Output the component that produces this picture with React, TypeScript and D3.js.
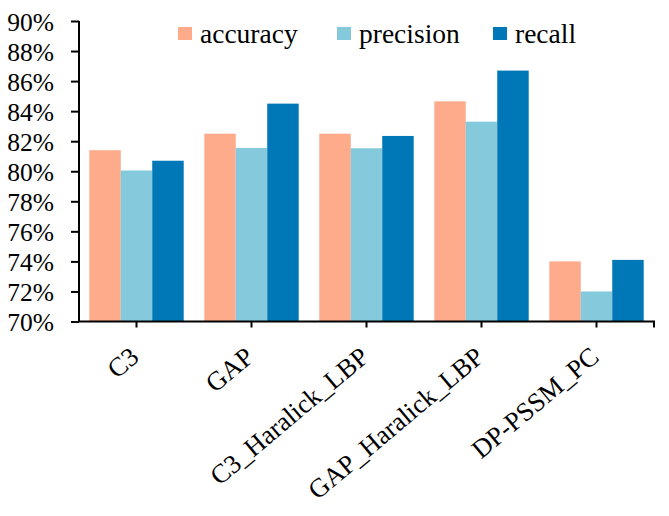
import React, { useEffect, useRef } from "react";
import * as d3 from "d3";

const categories = ["C3", "GAP", "C3_Haralick_LBP", "GAP_Haralick_LBP", "DP-PSSM_PC"];
const seriesNames = ["accuracy", "precision", "recall"];
const accuracy = [81.4, 82.5, 82.5, 84.65, 74.0];
const precision = [80.05, 81.55, 81.53, 83.3, 72.0];
const recall = [80.7, 84.5, 82.35, 86.7, 74.1];
const yTicks = [70, 72, 74, 76, 78, 80, 82, 84, 86, 88, 90];
const colors = ["#FDAB8B", "#84C9DC", "#0078B7"];

const W = 669;
const H = 516;
const FONT = "'Liberation Serif', 'Times New Roman', serif";

export default function App() {
  const ref = useRef<SVGSVGElement>(null);
  useEffect(() => {
    const svg = d3.select(ref.current);
    svg.selectAll("*").remove();
    const left = 79, right = 654, top = 21, bottom = 321.5;
    const x = d3.scaleBand<string>().domain(categories).range([left, right]).paddingInner(0).paddingOuter(0);
    const xs = d3.scaleBand<string>().domain(seriesNames).range([0, x.bandwidth()]).paddingInner(0).paddingOuter(0.327);
    const y = d3.scaleLinear().domain([70, 90]).range([bottom, top]);
    const values = [accuracy, precision, recall];

    const g = svg.append("g");
    // bars
    seriesNames.forEach((s, si) => {
      g.selectAll(null)
        .data(categories)
        .enter()
        .append("rect")
        .attr("x", (c) => (x(c) as number) + (xs(s) as number))
        .attr("width", xs.bandwidth())
        .attr("y", (_c, i) => y(values[si][i]))
        .attr("height", (_c, i) => y(70) - y(values[si][i]))
        .attr("fill", colors[si]);
    });

    // y axis
    const yAxis = d3.axisLeft(y).tickValues(yTicks).tickSize(8).tickFormat((d) => `${d}%`);
    const ya = g.append("g").attr("transform", `translate(${left},0)`).call(yAxis);
    ya.select(".domain").attr("stroke", "#000").attr("stroke-width", 2).attr("d", `M0,${top}V${bottom}`);
    ya.selectAll(".tick line").attr("stroke", "#000").attr("stroke-width", 2);
    ya.selectAll(".tick text")
      .attr("x", -25)
      .attr("dy", "0.36em")
      .attr("font-family", FONT)
      .attr("font-size", 25.5)
      .attr("fill", "#000");

    // x axis
    const xa = g.append("g").attr("transform", `translate(0,${bottom})`);
    xa.append("line").attr("x1", left - 1).attr("x2", right + 1).attr("stroke", "#000").attr("stroke-width", 2);
    xa.selectAll(null)
      .data(categories)
      .enter()
      .append("line")
      .attr("x1", (c) => (x(c) as number) + x.bandwidth() / 2)
      .attr("x2", (c) => (x(c) as number) + x.bandwidth() / 2)
      .attr("y1", 0)
      .attr("y2", 6)
      .attr("stroke", "#000")
      .attr("stroke-width", 2);
    xa.append("line").attr("x1", right).attr("x2", right).attr("y1", 0).attr("y2", 6).attr("stroke", "#000").attr("stroke-width", 2);
    xa.selectAll(null)
      .data(categories)
      .enter()
      .append("text")
      .attr("transform", (c) => `translate(${(x(c) as number) + x.bandwidth() / 2 + 4},38) rotate(-40)`)
      .attr("text-anchor", "end")
      .attr("font-family", FONT)
      .attr("font-size", 26.5)
      .attr("fill", "#000")
      .text((c) => c);

    // legend
    const legendX = [178, 337, 493];
    const lg = g.append("g");
    seriesNames.forEach((s, si) => {
      lg.append("rect").attr("x", legendX[si]).attr("y", 27).attr("width", 14).attr("height", 13).attr("fill", colors[si]);
      lg.append("text")
        .attr("x", legendX[si] + 22)
        .attr("y", 43)
        .attr("font-family", FONT)
        .attr("font-size", 27.5)
        .attr("fill", "#000")
        .text(s);
    });
  }, []);
  return (
    <svg ref={ref} width={W} height={H} style={{ position: "absolute", left: 0, top: 0, background: "#fff" }} />
  );
}
